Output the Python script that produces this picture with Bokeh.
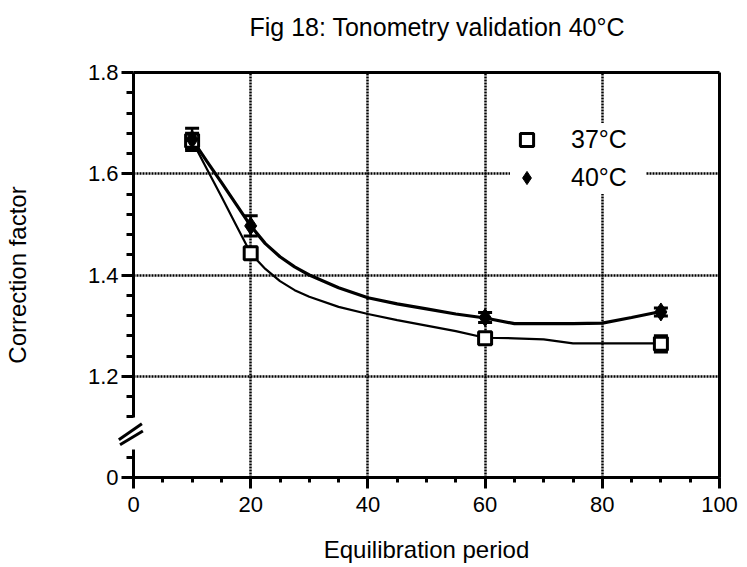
from bokeh.plotting import figure
from bokeh.models import (Range1d, FixedTicker, LinearAxis, Legend, LegendItem, Title,
                          Whisker, ColumnDataSource, TeeHead)
from bokeh.embed import file_html
from bokeh.resources import INLINE

title_text = "Fig 18: Tonometry validation 40°C"
x_label = "Equilibration period"
y_label = "Correction factor"
series_names = ["37°C", "40°C"]

# measured points
period = [10, 20, 60, 90]
cf_37 = [1.665, 1.443, 1.275, 1.264]
err_37 = [0.015, 0.012, 0.010, 0.016]
cf_40 = [1.668, 1.497, 1.316, 1.327]
err_40 = [0.022, 0.020, 0.010, 0.008]

# fitted curves
fit_period = [10, 12.5, 15, 17.5, 20, 22.5, 25, 27.5, 30, 35, 40, 45, 50, 55, 60, 65, 70, 75, 80, 85, 90]
fit_37 = [1.665, 1.610, 1.555, 1.499, 1.443, 1.412, 1.388, 1.370, 1.357, 1.337, 1.323, 1.311, 1.300,
          1.289, 1.276, 1.275, 1.273, 1.265, 1.265, 1.265, 1.265]
fit_40 = [1.668, 1.625, 1.583, 1.540, 1.497, 1.462, 1.436, 1.416, 1.400, 1.375, 1.355, 1.343, 1.333,
          1.323, 1.315, 1.304, 1.304, 1.304, 1.305, 1.316, 1.328]

x_ticks = [0, 20, 40, 60, 80, 100]
x_minor = [0, 5, 10, 15, 20, 25, 30, 35, 40, 45, 50, 55, 60, 65, 70, 75, 80, 85, 90, 95, 100]
x_grid = [20, 40, 60, 80]
y_ticks = [1.0, 1.2, 1.4, 1.6, 1.8]
y_minor = [1.04, 1.12, 1.16, 1.24, 1.28, 1.32, 1.36, 1.44, 1.48, 1.52, 1.56,
           1.64, 1.68, 1.72, 1.76]
y_tick_labels = {1.0: "0", 1.2: "1.2", 1.4: "1.4", 1.6: "1.6", 1.8: "1.8"}
y_grid = [1.2, 1.4, 1.6]
# axis break: gap in the axis line and the two slanted marks
break_x0 = [-2.5, -2.3]
break_y0 = [1.0745, 1.0647]
break_x1 = [1.43, 1.6]
break_y1 = [1.106, 1.092]

FONT = "Liberation Sans"
TICK_FS = "22px"
LABEL_FS = "24px"
INK = "black"

p = figure(width=747, height=567, output_backend="svg", toolbar_location=None,
           x_range=Range1d(0, 100), y_range=Range1d(1.0, 1.8),
           min_border_left=133, min_border_right=28, min_border_top=72, min_border_bottom=90,
           background_fill_color="white", border_fill_color="white")
p.outline_line_color = None
p.title.text = ""

# x axis
xa = p.xaxis[0]
xa.ticker = FixedTicker(ticks=x_ticks, minor_ticks=x_minor)
xa.axis_line_width = 3
xa.axis_line_color = INK
xa.major_tick_line_width = 3
xa.major_tick_line_color = INK
xa.major_tick_out = 11
xa.major_tick_in = 0
xa.minor_tick_line_width = 3
xa.minor_tick_line_color = INK
xa.minor_tick_out = 5
xa.minor_tick_in = 0
xa.major_label_text_font = FONT
xa.major_label_text_font_size = TICK_FS
xa.major_label_text_color = INK
xa.major_label_standoff = 8
xa.axis_label = x_label
xa.axis_label_text_font = FONT
xa.axis_label_text_font_size = LABEL_FS
xa.axis_label_text_font_style = "normal"
xa.axis_label_text_color = INK
xa.axis_label_standoff = 21

# y axis (line drawn bottom-up: 28px solid, 32px gap, rest solid)
ya = p.yaxis[0]
ya.ticker = FixedTicker(ticks=y_ticks, minor_ticks=y_minor)
ya.major_label_overrides = y_tick_labels
ya.axis_line_width = 3
ya.axis_line_color = INK
ya.axis_line_dash = "28 32 345"
ya.major_tick_line_width = 3
ya.major_tick_line_color = INK
ya.major_tick_out = 12
ya.major_tick_in = 0
ya.minor_tick_line_width = 3
ya.minor_tick_line_color = INK
ya.minor_tick_out = 7
ya.minor_tick_in = 0
ya.major_label_text_font = FONT
ya.major_label_text_font_size = TICK_FS
ya.major_label_text_color = INK
ya.major_label_standoff = 3
ya.axis_label = y_label
ya.axis_label_text_font = FONT
ya.axis_label_text_font_size = LABEL_FS
ya.axis_label_text_font_style = "normal"
ya.axis_label_text_color = INK
ya.axis_label_standoff = 54

# right and top borders
for side in ("right", "above"):
    ax = LinearAxis(ticker=FixedTicker(ticks=[]), axis_line_width=3, axis_line_color=INK,
                    major_tick_line_color=None, minor_tick_line_color=None,
                    major_label_text_font_size="0px")
    p.add_layout(ax, side)

# blank spacer between the top border and the title, then the title itself
p.add_layout(Title(text=" ", text_font_size="1px", standoff=27), "above")
p.add_layout(Title(text=title_text, text_font=FONT, text_font_size="25px", text_color=INK,
                   text_font_style="normal", align="left", offset=116, standoff=3), "above")

# grids
p.xgrid[0].ticker = FixedTicker(ticks=x_grid)
p.ygrid[0].ticker = FixedTicker(ticks=y_grid)
for g in (p.xgrid[0], p.ygrid[0]):
    g.grid_line_color = INK
    g.grid_line_width = 2.5
    g.grid_line_dash = "2 1"

# axis break marks
brk = p.segment(break_x0, break_y0, break_x1, break_y1, line_color=INK, line_width=3)
brk.level = "overlay"

# curves
p.line(fit_period, fit_37, line_color=INK, line_width=2.2)
p.line(fit_period, fit_40, line_color=INK, line_width=3.2)

# error bars
def whisk(y, e):
    src = ColumnDataSource(dict(x=period, lo=[a - b for a, b in zip(y, e)],
                                hi=[a + b for a, b in zip(y, e)]))
    w = Whisker(source=src, base="x", upper="hi", lower="lo", dimension="height",
                line_width=2.5, line_color=INK,
                upper_head=TeeHead(size=14, line_width=3, line_color=INK),
                lower_head=TeeHead(size=14, line_width=3, line_color=INK))
    p.add_layout(w)

whisk(cf_37, err_37)
whisk(cf_40, err_40)

r37 = p.scatter(period, cf_37, marker="square", size=13, fill_color="white",
                line_color=INK, line_width=3)
r40 = p.scatter(period, cf_40, marker="diamond", size=18, fill_color=INK,
                line_color=INK, line_width=1)

legend = Legend(items=[LegendItem(label=series_names[0], renderers=[r37]),
                       LegendItem(label=series_names[1], renderers=[r40])],
                location=(377, 283), orientation="vertical", margin=0,
                background_fill_color="white", background_fill_alpha=1.0,
                border_line_color=None, padding=10, spacing=5,
                glyph_width=33, glyph_height=33, label_standoff=28,
                label_text_font=FONT, label_text_font_size="25px", label_text_color=INK,
                label_height=33, label_width=75)
p.add_layout(legend)

open("out.html", "w").write(file_html(p, INLINE))
